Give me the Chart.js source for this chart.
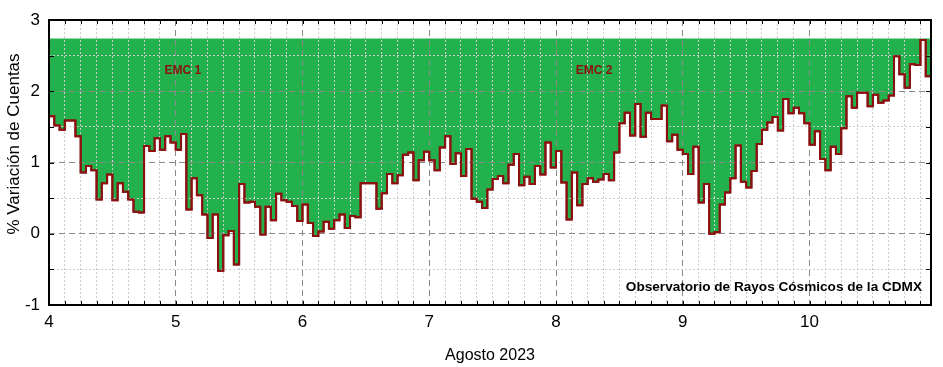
<!DOCTYPE html>
<html><head><meta charset="utf-8">
<script src="https://cdn.jsdelivr.net/npm/chart.js@4"></script>
<style>html,body{margin:0;padding:0;background:#fff}</style>
</head><body>
<canvas id="c" width="943" height="367"></canvas>
<script>
// ---- data (hourly % variation, Agosto 2023, starting day 4 00h) ----
const startDay = 4;
const stepsPerDay = 24;
const variacion = [
  // día 4
  1.65, 1.52, 1.46, 1.59, 1.59, 1.37, 0.86, 0.95, 0.89, 0.48, 0.71, 0.83,
  0.47, 0.71, 0.59, 0.48, 0.31, 0.30, 1.23, 1.16, 1.34, 1.18, 1.37, 1.28,
  // día 5
  1.18, 1.40, 0.34, 0.78, 0.54, 0.27, -0.06, 0.27, -0.52, -0.02, 0.04, -0.43,
  0.70, 0.44, 0.45, 0.38, -0.01, 0.38, 0.19, 0.56, 0.47, 0.45, 0.39, 0.18,
  // día 6
  0.41, 0.15, -0.03, 0.03, 0.17, 0.07, 0.19, 0.27, 0.08, 0.25, 0.23, 0.71,
  0.71, 0.71, 0.35, 0.57, 0.84, 0.71, 0.82, 1.11, 1.14, 0.75, 1.03, 1.15,
  // día 7
  1.03, 0.89, 1.21, 1.37, 0.98, 1.13, 0.81, 1.19, 0.49, 0.45, 0.36, 0.62,
  0.77, 0.81, 0.71, 0.97, 1.12, 0.68, 0.80, 0.70, 0.95, 0.83, 1.28, 0.93,
  // día 8
  1.16, 0.72, 0.20, 0.86, 0.40, 0.70, 0.78, 0.73, 0.76, 0.84, 0.75, 1.14,
  1.55, 1.70, 1.38, 1.82, 1.36, 1.70, 1.61, 1.61, 1.80, 1.30, 1.39, 1.18,
  // día 9
  1.12, 0.84, 1.22, 0.44, 0.70, 0.00, 0.02, 0.41, 0.58, 0.78, 1.24, 0.73,
  0.65, 0.88, 1.26, 1.46, 1.56, 1.64, 1.45, 1.89, 1.69, 1.77, 1.69, 1.55,
  // día 10
  1.25, 1.44, 1.05, 0.89, 1.22, 1.12, 1.48, 1.93, 1.77, 1.98, 1.98, 1.79,
  1.95, 1.84, 1.87, 1.94, 2.49, 2.24, 2.05, 2.38, 2.37, 2.72, 2.21
];
const fillTop = 2.74;
const xTickLabels = [4, 5, 6, 7, 8, 9, 10];
const yTickLabels = [-1, 0, 1, 2, 3];
const xTitle = 'Agosto 2023';
const yTitle = '% Variación de Cuentas';
const eventLabels = ['EMC 1', 'EMC 2'];
const eventDays = [5.056, 8.30];
const sourceLabel = 'Observatorio de Rayos Cósmicos de la CDMX';

// build stepped points (each value holds for one hour)
const points = variacion.map((v, i) => ({x: startDay + i / stepsPerDay, y: v}));
points.push({x: startDay + variacion.length / stepsPerDay, y: variacion[variacion.length - 1]});
const xMin = startDay;
const xMax = startDay + variacion.length / stepsPerDay;

const FONT = "'Liberation Sans', Arial, sans-serif";
const isInt = v => Math.abs(v - Math.round(v)) < 1e-9;

const framePlugin = {
  id: 'frame',
  afterDraw(chart) {
    const {ctx, chartArea: a, scales: {x, y}} = chart;
    ctx.save();
    // redraw the step line above the grid lines
    ctx.beginPath();
    ctx.rect(a.left - 1, a.top - 2, a.right - a.left + 2, a.bottom - a.top + 4);
    ctx.clip();
    chart.getDatasetMeta(0).dataset.draw(ctx, a);
    ctx.restore();

    ctx.save();
    ctx.strokeStyle = '#000';
    ctx.lineWidth = 1;
    ctx.beginPath();
    x.ticks.forEach(t => {
      const px = Math.round(x.getPixelForValue(t.value)) + 0.5;
      ctx.moveTo(px, a.bottom); ctx.lineTo(px, a.bottom - 4);
      ctx.moveTo(px, a.top); ctx.lineTo(px, a.top + 4);
    });
    y.ticks.forEach(t => {
      const py = Math.round(y.getPixelForValue(t.value)) + 0.5;
      ctx.moveTo(a.left, py); ctx.lineTo(a.left + 5, py);
      ctx.moveTo(a.right, py); ctx.lineTo(a.right - 5, py);
    });
    ctx.stroke();
    ctx.lineWidth = 2;
    ctx.strokeRect(a.left, a.top, a.right - a.left, a.bottom - a.top);

    // event labels
    ctx.fillStyle = '#8b1010';
    ctx.font = 'bold 12px ' + FONT;
    ctx.textAlign = 'center';
    ctx.textBaseline = 'middle';
    eventLabels.forEach((t, i) => {
      ctx.fillText(t, x.getPixelForValue(eventDays[i]), y.getPixelForValue(2.29));
    });
    // source label
    ctx.fillStyle = '#000';
    ctx.font = 'bold 13.6px ' + FONT;
    ctx.textAlign = 'right';
    ctx.fillText(sourceLabel, a.right - 9, a.bottom - 18);

    // y title
    ctx.save();
    ctx.translate(14, 144);
    ctx.rotate(-Math.PI / 2);
    ctx.font = '17px ' + FONT;
    ctx.textAlign = 'center';
    ctx.textBaseline = 'middle';
    ctx.fillStyle = '#000';
    ctx.fillText(yTitle, 0, 0);
    ctx.restore();
    ctx.restore();
  }
};

const gridColor = c => isInt(c.tick.value) ? '#8a8a8a' : '#cdcdcd';
const gridDash = c => isInt(c.tick.value) ? [6, 4] : [2, 2];

new Chart(document.getElementById('c'), {
  type: 'line',
  data: {
    datasets: [{
      data: points,
      stepped: true,
      borderColor: '#8b1010',
      borderWidth: 2,
      backgroundColor: '#22b14c',
      fill: {value: fillTop},
      pointRadius: 0,
      tension: 0
    }]
  },
  options: {
    responsive: false,
    animation: false,
    devicePixelRatio: 1,
    layout: {padding: {top: 20, right: 12, left: 0, bottom: 0}},
    plugins: {legend: {display: false}, tooltip: {enabled: false}},
    scales: {
      x: {
        type: 'linear', min: xMin, max: xMax,
        afterFit(s) { s.height = 62; },
        ticks: {
          stepSize: 0.125, autoSkip: false, maxRotation: 0, minRotation: 0,
          includeBounds: false, padding: 7, color: '#000',
          font: {family: FONT, size: 17},
          callback: v => xTickLabels.some(t => Math.abs(t - v) < 1e-9) ? String(Math.round(v)) : ''
        },
        grid: {drawTicks: false, z: 1, color: gridColor, lineWidth: 1},
        border: {display: false, dash: gridDash},
        title: {display: true, text: xTitle, color: '#000', font: {family: FONT, size: 16}, padding: {top: 0, bottom: 2}}
      },
      y: {
        min: -1, max: 3,
        afterFit(s) { s.width = 49; },
        ticks: {
          stepSize: 0.5, autoSkip: false, padding: 9, color: '#000',
          font: {family: FONT, size: 17},
          callback: v => yTickLabels.some(t => Math.abs(t - v) < 1e-9) ? String(Math.round(v)) : ''
        },
        grid: {drawTicks: false, z: 1, color: gridColor, lineWidth: 1},
        border: {display: false, dash: gridDash}
      }
    }
  },
  plugins: [framePlugin]
});
</script>
</body></html>
